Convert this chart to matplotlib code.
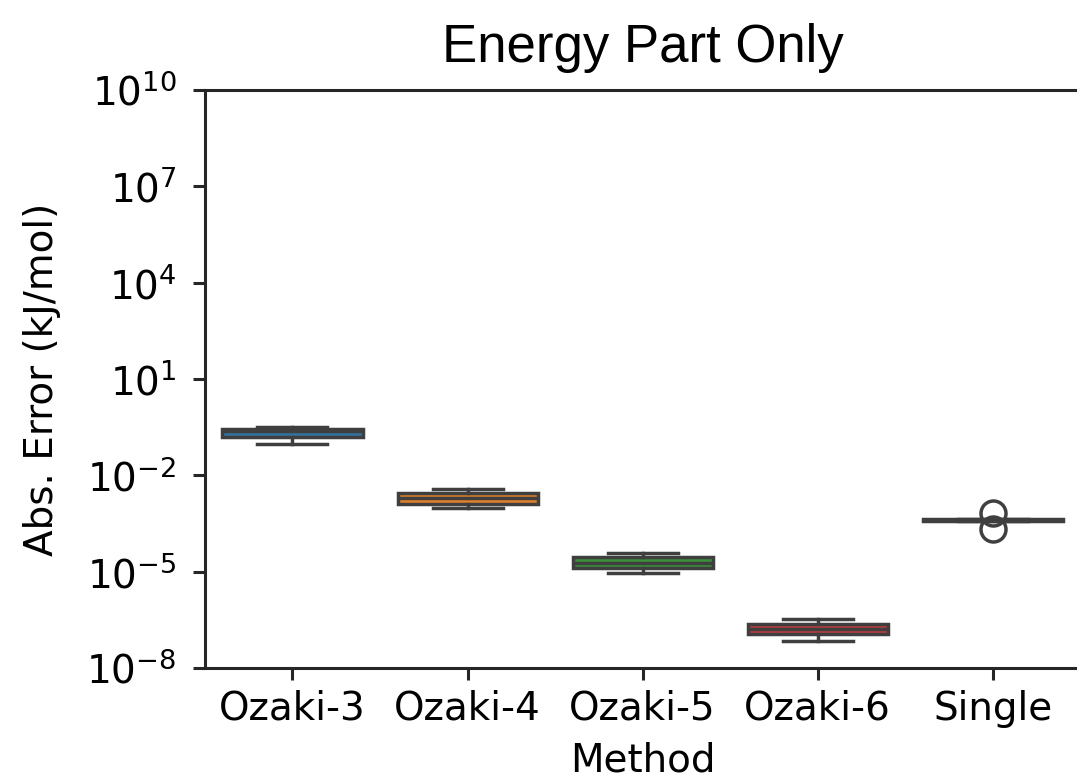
import numpy as np
import matplotlib
matplotlib.use("Agg")
import matplotlib.pyplot as plt
from matplotlib.ticker import NullLocator

# box statistics (log10 of kJ/mol)
methods = ["Ozaki-3", "Ozaki-4", "Ozaki-5", "Ozaki-6", "Single"]
whislo = [-1.01, -3.02, -5.03, -7.15, -3.42]
q1 = [-0.81, -2.89, -4.89, -6.95, -3.42]
med = [-0.62, -2.72, -4.72, -6.79, -3.39]
q3 = [-0.56, -2.56, -4.55, -6.63, -3.36]
whishi = [-0.50, -2.43, -4.43, -6.47, -3.36]
fliers = [[], [], [], [], [-3.18, -3.68]]
colors = ["#3274a1", "#e1812c", "#3a923a", "#c03d3e", "#8172b3"]
yticks = [-8, -5, -2, 1, 4, 7, 10]

gray = "#3f3f3f"
lw = 1.25

stats = []
for i, m in enumerate(methods):
    stats.append(dict(label=m, whislo=10 ** whislo[i], q1=10 ** q1[i], med=10 ** med[i],
                      q3=10 ** q3[i], whishi=10 ** whishi[i],
                      fliers=[10 ** f for f in fliers[i]]))

fig = plt.figure(figsize=(5.385, 3.895), dpi=200)
ax = fig.add_axes([0.1903, 0.1425, 0.8127, 0.742])

bp = ax.bxp(stats, positions=range(len(methods)), widths=0.8, patch_artist=True,
            capwidths=0.4,
            boxprops=dict(edgecolor=gray, linewidth=lw),
            medianprops=dict(color=gray, linewidth=lw),
            whiskerprops=dict(color=gray, linewidth=lw),
            capprops=dict(color=gray, linewidth=lw),
            flierprops=dict(marker="o", markerfacecolor="none", markeredgecolor=gray,
                            markersize=9, markeredgewidth=lw))
for patch, c in zip(bp["boxes"], colors):
    patch.set_facecolor(c)

ax.set_yscale("log")
ax.set_ylim(1e-8, 1e10)
ax.set_xlim(-0.5, len(methods) - 0.5)
ax.set_yticks([10.0 ** t for t in yticks])
ax.yaxis.set_minor_locator(NullLocator())
ax.set_xticks(range(len(methods)))
ax.set_xticklabels(methods)
ax.tick_params(labelsize=14, length=4.3, width=1.1, color="#262626")
ax.tick_params(axis="y", pad=6)
for s in ax.spines.values():
    s.set_linewidth(1.1)
    s.set_color("#262626")

ax.set_xlabel("Method", fontsize=14, labelpad=5)
ax.set_ylabel("Abs. Error (kJ/mol)", fontsize=14, labelpad=9)
ax.set_title("Energy Part Only", fontsize=19, family="Liberation Sans", pad=10)

fig.savefig("out.png", dpi=200)
